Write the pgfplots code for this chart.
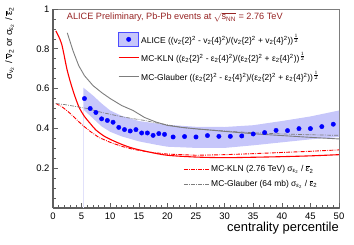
\documentclass[border=0pt]{standalone}
\usepackage{fontspec}
\setmainfont{Liberation Sans}
\usepackage{amsmath}
\usepackage{pgfplots}
\pgfplotsset{compat=1.18}
\definecolor{bandc}{RGB}{198,198,250}
\definecolor{bandline}{RGB}{225,225,250}
\definecolor{titlered}{RGB}{150,35,35}
\definecolor{glgrey}{RGB}{125,125,125}
\definecolor{axgrey}{RGB}{95,95,95}
\newcommand{\vv}{v\textsubscript{2}}
\newcommand{\ee}{ε\textsubscript{2}}
\newcommand{\sq}{\textsuperscript{2}}
\newcommand{\half}{$^{\frac{1}{2}}$}
\newcommand{\sigeps}{$\text{σ}_{\text{ε}_{\text{2}}}$ / $\overline{\text{ε}}_{\text{2}}$}
\begin{document}
\begin{tikzpicture}
\useasboundingbox (-53bp,-37bp) rectangle (301bp,208bp);
% frame axis with second legend
\begin{axis}[
  scale only axis, width=286bp, height=199bp,
  xmin=0, xmax=50, ymin=0, ymax=1,
  axis lines=box, xtick=\empty, ytick=\empty,
  axis line style={glgrey, line width=0.6bp},
  legend style={at={(axis description cs:0.455,0.225)}, anchor=north west,
    draw=none, fill=none, inner sep=0pt, font=\fontsize{8.5}{10}\selectfont,
    row sep=3bp, legend cell align=left},
  legend image code/.code={\draw[#1] (0bp,0bp) -- (25bp,0bp);},
]
\addlegendimage{red, line width=0.9bp, dash pattern=on 4bp off 1.2bp on 0.8bp off 1.2bp}
\addlegendentry{MC-KLN (2.76 TeV) \sigeps}
\addlegendimage{glgrey, line width=0.7bp, dash pattern=on 4bp off 1.2bp on 0.8bp off 1.2bp}
\addlegendentry{MC-Glauber (64 mb) \sigeps}
\end{axis}
\begin{axis}[
  scale only axis, width=286bp, height=199bp,
  xmin=0, xmax=50, ymin=0, ymax=1,
  axis x line=bottom, axis y line=left,
  axis line style={-, axgrey, line width=1.4bp},
  tick style={axgrey, line width=0.6bp},
  tick align=inside,
  major tick length=5bp, minor tick length=3bp,
  xtick={0,5,...,50}, minor x tick num=4,
  ytick={0,0.2,0.4,0.6,0.8,1}, yticklabels={,0.2,0.4,0.6,0.8,1},
  minor y tick num=3,
  ticklabel style={font=\fontsize{9.5}{11}\selectfont},
  /pgf/number format/assume math mode=true,
  xticklabel style={yshift=-1bp},
  ylabel={$\text{σ}_{\text{v}_{\text{2}}}$ / $\overline{\text{v}}_{\text{2}}$ or \sigeps},
  ylabel style={at={(axis description cs:-0.135,1.01)}, anchor=south east,
    inner sep=0pt, font=\fontsize{9.5}{11}\selectfont},
  xlabel={centrality percentile},
  xlabel style={at={(axis description cs:1,-0.069)}, anchor=north east,
    inner sep=0pt, font=\fontsize{13}{15}\selectfont},
  legend style={at={(axis description cs:0.227,0.885)}, anchor=north west,
    draw=none, fill=none, inner sep=0pt, font=\fontsize{8.5}{10}\selectfont,
    row sep=4bp, legend cell align=left},
  legend image code/.code={\draw[#1] (0bp,0bp) -- (20bp,0bp);},
]
% band
\addplot[fill=bandc, draw=none, forget plot] coordinates {
 (5.3,0.605) (7,0.565) (8.5,0.525) (10,0.49) (12,0.463) (15,0.437) (18,0.425) (20,0.418)
 (25,0.408) (30,0.407) (35,0.416) (40,0.437) (45,0.46) (50,0.49)
 (50,0.357) (45,0.345) (40,0.33) (35,0.315) (30,0.302) (25,0.302) (20,0.308)
 (18,0.318) (15,0.335) (12,0.36) (10,0.383) (8.5,0.41) (7,0.45) (5.3,0.495)
} -- cycle;
\addplot[bandline, line width=0.5bp, forget plot] coordinates {(5.3,0) (5.3,0.495)};
% ALICE points
\addplot[only marks, mark=*, mark size=2.2bp, blue, mark options={draw=blue, fill=blue},
  legend image code/.code={\draw[fill=bandc, draw=blue!70, line width=0.5bp] (0bp,-7bp) rectangle (20bp,7bp); \fill[blue] (10bp,0bp) circle (2.2bp);}]
 table {
5.5 0.55
6.5 0.50
7.5 0.48
8.5 0.448
9.5 0.44
10.5 0.431
11.5 0.405
12.5 0.394
13.5 0.387
14.5 0.394
15.5 0.377
16.5 0.377
17.5 0.365
18.5 0.374
19.5 0.370
21 0.357
23 0.359
25 0.357
27 0.364
29 0.360
31 0.360
33 0.362
35 0.372
37 0.379
39 0.390
41 0.389
43 0.399
45 0.399
47 0.409
49 0.421
};
\addlegendentry{ALICE ((\vv\{2\}\sq{} - \vv\{4\}\sq)/(\vv\{2\}\sq{} + \vv\{4\}\sq))\half}
% MC-KLN solid
\addplot[red, line width=1.1bp, smooth] coordinates {
 (0.5,0.89) (1.5,0.825) (2.5,0.69) (3.5,0.59) (4.5,0.51) (5.5,0.46) (6.5,0.425)
 (7.5,0.392) (9,0.36) (10,0.345) (12,0.32) (14,0.3) (17,0.28) (20,0.265)
 (25,0.256) (30,0.253) (35,0.255) (40,0.258) (45,0.262) (50,0.268)
};
\addlegendentry{MC-KLN ((\ee\{2\}\sq{} - \ee\{4\}\sq)/(\ee\{2\}\sq{} + \ee\{4\}\sq))\half}
% MC-Glauber solid
\addplot[glgrey, line width=0.9bp] coordinates {
 (2.5,0.88) (3.5,0.79) (4.5,0.715) (5.5,0.665) (7,0.615) (8.5,0.58) (10,0.55)
 (12,0.515) (14,0.49) (16,0.455) (18,0.432) (20,0.415) (22.5,0.405) (25,0.398)
 (30,0.385) (35,0.373) (40,0.364) (45,0.355) (50,0.347)
};
\addlegendentry{MC-Glauber ((\ee\{2\}\sq{} - \ee\{4\}\sq)/(\ee\{2\}\sq{} + \ee\{4\}\sq))\half}
% MC-KLN sigma/eps
\addplot[red, line width=0.9bp, dash pattern=on 4bp off 1.2bp on 0.8bp off 1.2bp, forget plot] coordinates {
 (0.5,0.525) (1.5,0.51) (2.5,0.488) (3.5,0.462) (5,0.42) (6.5,0.385) (8,0.355)
 (10,0.33) (12,0.31) (14,0.295) (17,0.28) (20,0.271) (25,0.265) (30,0.268)
 (35,0.273) (40,0.279) (45,0.285) (50,0.292)
};
% MC-Glauber sigma/eps
\addplot[glgrey, line width=0.7bp, dash pattern=on 4bp off 1.2bp on 0.8bp off 1.2bp, forget plot] coordinates {
 (0.5,0.525) (2,0.52) (4,0.51) (6,0.5) (8,0.484) (10,0.471) (12,0.459) (14,0.449)
 (16,0.44) (18,0.428) (20,0.418) (22.5,0.405) (25,0.397) (30,0.387) (35,0.378)
 (40,0.372) (45,0.368) (50,0.365)
};
\node[anchor=base west, text=titlered, font=\fontsize{9.2}{11}\selectfont, inner sep=0pt]
  at (axis description cs:0.048,0.945) {ALICE Preliminary, Pb-Pb events at $\sqrt{\text{s}_{\text{NN}}}$ = 2.76 TeV};
\end{axis}
\end{tikzpicture}
\end{document}
